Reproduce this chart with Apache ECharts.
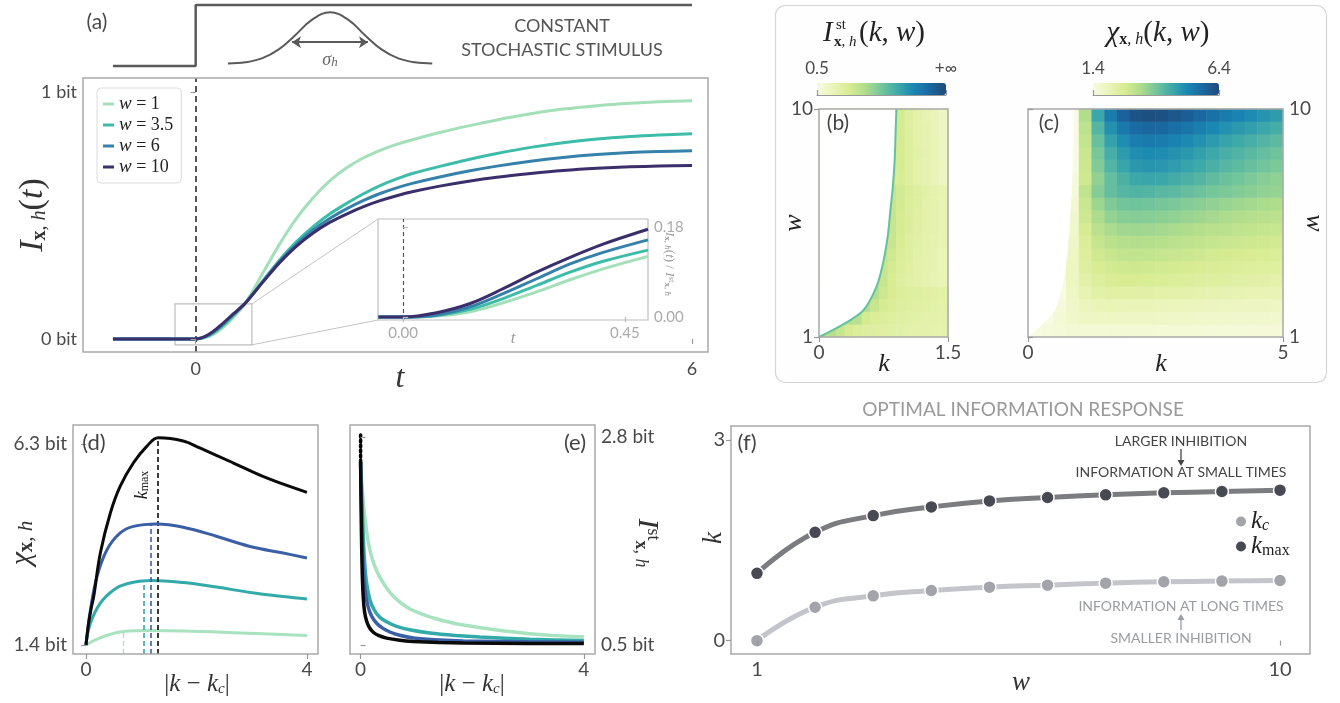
<!DOCTYPE html>
<html><head><meta charset="utf-8">
<script src="https://cdn.jsdelivr.net/npm/echarts@6/dist/echarts.min.js"></script>
<style>html,body{margin:0;padding:0;background:#fff;}#c{width:1340px;height:703px;}</style>
</head><body><div id="c"></div>
<script>
// ---------------- DATA ----------------
// (a) main curves I(t)
const tMain = [-1, 0, 0.15, 0.3, 0.45, 0.6, 0.82, 1.02, 1.22, 1.42, 1.62, 1.83, 2.03, 2.23, 2.43, 2.63, 2.95, 3.3, 3.64, 4.05, 4.44, 4.85, 5.25, 5.6, 6.0];
const iW1  = [0, 0, 0.008, 0.038, 0.085, 0.145, 0.272, 0.387, 0.489, 0.572, 0.640, 0.694, 0.734, 0.764, 0.788, 0.808, 0.836, 0.863, 0.887, 0.912, 0.931, 0.945, 0.955, 0.961, 0.965];
const iW35 = [0, 0, 0.012, 0.046, 0.093, 0.145, 0.238, 0.322, 0.394, 0.455, 0.506, 0.550, 0.588, 0.621, 0.648, 0.671, 0.699, 0.727, 0.751, 0.776, 0.795, 0.810, 0.820, 0.826, 0.831];
const iW6  = [0, 0, 0.014, 0.050, 0.097, 0.145, 0.236, 0.316, 0.384, 0.441, 0.488, 0.528, 0.561, 0.589, 0.612, 0.631, 0.656, 0.680, 0.700, 0.720, 0.735, 0.747, 0.755, 0.759, 0.762];
const iW10 = [0, 0, 0.017, 0.055, 0.100, 0.145, 0.233, 0.311, 0.376, 0.429, 0.472, 0.507, 0.536, 0.560, 0.580, 0.597, 0.619, 0.639, 0.655, 0.670, 0.682, 0.691, 0.697, 0.700, 0.703];
const wLegend = ['w = 1', 'w = 3.5', 'w = 6', 'w = 10'];
// (a) inset, normalised
const tInset = [-0.05, 0, 0.068, 0.136, 0.203, 0.271, 0.339, 0.406, 0.497];
const nW1  = [0, 0, 0.002, 0.0105, 0.0284, 0.0501, 0.0745, 0.0963, 0.1213];
const nW35 = [0, 0, 0.003, 0.0152, 0.0369, 0.0633, 0.0897, 0.1114, 0.1338];
const nW6  = [0, 0, 0.004, 0.0204, 0.0468, 0.0765, 0.1062, 0.1292, 0.1543];
const nW10 = [0, 0, 0.0086, 0.027, 0.0567, 0.0897, 0.1193, 0.1457, 0.1754];
// (a) stimulus sketch
const stepT = [-1, 0, 0, 6];
const stepV = [0, 0, 1, 1];
const gaussT = [0.39, 0.6, 0.8, 1.0, 1.2, 1.4, 1.625, 1.85, 2.05, 2.25, 2.45, 2.65, 2.86];
const gaussV = [0.039, 0.06, 0.124, 0.268, 0.50, 0.753, 0.883, 0.753, 0.50, 0.268, 0.124, 0.06, 0.039];
const sigmaArrow = [[1.164, 0.39], [2.083, 0.39]];
const zoomBox = [[-0.25, -0.024], [0.68, 0.142]];

// (f) optimal k
const wF = [1, 2, 3, 4, 5, 6, 7, 8, 9, 10];
const kmaxF = [1.006, 1.62, 1.87, 2.00, 2.09, 2.14, 2.18, 2.21, 2.23, 2.25];
const kcF = [0, 0.50, 0.67, 0.75, 0.80, 0.83, 0.86, 0.88, 0.89, 0.90];

// (b),(c) heatmaps: rows are w cell centres (bottom to top)
const wRows = [1.25, 1.75, 2.25, 2.75, 3.25, 3.75, 4.25, 4.75, 5.25, 5.75, 6.25, 6.75, 7.25, 7.75, 8.25, 8.75, 9.25, 9.75];
const kColsB = [0.05, 0.15, 0.25, 0.35, 0.45, 0.55, 0.65, 0.75, 0.85, 0.95, 1.05, 1.15, 1.25, 1.35, 1.45];
const heatB = [
 [1.32,1.32,1.21,1.09,1.03,0.99,0.96,0.95,0.94,0.91,0.90,0.89,0.88,0.87,0.87],
 [1.32,1.32,1.32,1.32,1.28,1.10,1.04,1.01,0.97,0.95,0.94,0.91,0.90,0.89,0.88],
 [1.32,1.32,1.32,1.32,1.32,1.32,1.19,1.08,1.03,0.99,0.96,0.95,0.94,0.91,0.90],
 [1.32,1.32,1.32,1.32,1.32,1.32,1.32,1.17,1.06,1.02,0.98,0.96,0.95,0.93,0.91],
 [1.20,1.20,1.20,1.20,1.20,1.20,1.20,1.20,1.06,0.98,0.94,0.89,0.85,0.81,0.79],
 [1.20,1.20,1.20,1.20,1.20,1.20,1.20,1.20,1.10,1.02,0.95,0.90,0.87,0.83,0.80],
 [1.20,1.20,1.20,1.20,1.20,1.20,1.20,1.20,1.14,1.03,0.96,0.91,0.87,0.83,0.80],
 [1.20,1.20,1.20,1.20,1.20,1.20,1.20,1.20,1.20,1.06,0.98,0.94,0.89,0.85,0.81],
 [1.20,1.20,1.20,1.20,1.20,1.20,1.20,1.20,1.20,1.08,1.01,0.95,0.89,0.86,0.82],
 [1.20,1.20,1.20,1.20,1.20,1.20,1.20,1.20,1.20,1.09,1.01,0.95,0.90,0.86,0.82],
 [1.20,1.20,1.20,1.20,1.20,1.20,1.20,1.20,1.20,1.11,1.02,0.96,0.90,0.87,0.82],
 [1.20,1.20,1.20,1.20,1.20,1.20,1.20,1.20,1.20,1.12,1.03,0.96,0.91,0.87,0.83],
 [1.12,1.12,1.12,1.12,1.12,1.12,1.12,1.12,1.12,1.06,0.97,0.90,0.85,0.79,0.72],
 [1.12,1.12,1.12,1.12,1.12,1.12,1.12,1.12,1.12,1.08,0.98,0.90,0.85,0.79,0.73],
 [1.12,1.12,1.12,1.12,1.12,1.12,1.12,1.12,1.12,1.09,0.98,0.91,0.86,0.80,0.73],
 [1.12,1.12,1.12,1.12,1.12,1.12,1.12,1.12,1.12,1.10,0.97,0.90,0.85,0.80,0.73],
 [1.12,1.12,1.12,1.12,1.12,1.12,1.12,1.12,1.12,1.10,0.97,0.90,0.85,0.79,0.72],
 [1.12,1.12,1.12,1.12,1.12,1.12,1.12,1.12,1.12,1.10,0.96,0.89,0.84,0.78,0.72]
];
const kColsC = [0.125,0.375,0.625,0.875,1.125,1.375,1.625,1.875,2.125,2.375,2.625,2.875,3.125,3.375,3.625,3.875,4.125,4.375,4.625,4.875];
const heatC = [
 [1.4,1.49,1.57,1.60,1.62,1.62,1.62,1.61,1.60,1.60,1.59,1.59,1.58,1.58,1.57,1.57,1.56,1.56,1.55,1.55],
 [1.4,1.4,1.61,1.75,1.82,1.85,1.85,1.84,1.83,1.82,1.81,1.79,1.78,1.77,1.76,1.75,1.74,1.73,1.72,1.71],
 [1.4,1.4,1.51,1.78,1.95,2.03,2.05,2.04,2.03,2.02,2.00,1.98,1.96,1.95,1.93,1.91,1.90,1.88,1.87,1.86],
 [1.4,1.4,1.41,1.86,2.14,2.29,2.35,2.35,2.33,2.31,2.28,2.26,2.23,2.20,2.18,2.16,2.13,2.11,2.09,2.07],
 [1.4,1.4,1.4,1.91,2.30,2.49,2.58,2.62,2.62,2.60,2.57,2.53,2.50,2.46,2.42,2.39,2.36,2.33,2.31,2.28],
 [1.4,1.4,1.4,1.88,2.39,2.63,2.74,2.79,2.80,2.78,2.74,2.71,2.66,2.62,2.58,2.55,2.51,2.48,2.45,2.42],
 [1.4,1.4,1.4,1.85,2.47,2.78,2.92,2.98,3.00,2.98,2.94,2.90,2.85,2.80,2.75,2.71,2.67,2.63,2.60,2.57],
 [1.4,1.4,1.4,1.78,2.56,2.93,3.11,3.20,3.22,3.20,3.16,3.11,3.06,3.00,2.95,2.89,2.86,2.81,2.77,2.74],
 [1.4,1.4,1.4,1.73,2.67,3.10,3.32,3.43,3.45,3.43,3.39,3.34,3.27,3.20,3.14,3.09,3.04,2.99,2.95,2.91],
 [1.4,1.4,1.4,1.72,2.82,3.30,3.56,3.69,3.72,3.70,3.65,3.59,3.51,3.44,3.38,3.31,3.26,3.20,3.15,3.11],
 [1.4,1.4,1.4,1.63,2.88,3.47,3.76,3.91,3.95,3.92,3.87,3.81,3.73,3.66,3.58,3.52,3.44,3.39,3.33,3.27],
 [1.4,1.4,1.4,1.57,3.02,3.72,4.07,4.24,4.30,4.27,4.21,4.16,4.05,3.97,3.88,3.81,3.73,3.66,3.59,3.55],
 [1.4,1.4,1.4,1.50,2.78,3.58,4.06,4.36,4.54,4.60,4.57,4.47,4.36,4.25,4.12,3.99,3.90,3.80,3.70,3.61],
 [1.4,1.4,1.4,1.44,2.84,3.75,4.29,4.62,4.83,4.90,4.87,4.76,4.64,4.52,4.38,4.24,4.13,4.03,3.92,3.82],
 [1.4,1.4,1.4,1.4,2.88,3.86,4.43,4.80,5.03,5.10,5.06,4.95,4.84,4.69,4.55,4.40,4.29,4.18,4.06,3.95],
 [1.4,1.4,1.4,1.4,2.96,4.02,4.68,5.06,5.30,5.40,5.36,5.24,5.12,4.96,4.80,4.64,4.52,4.40,4.28,4.16],
 [1.4,1.4,1.4,1.4,3.07,4.26,4.99,5.43,5.69,5.80,5.76,5.62,5.49,5.32,5.14,4.96,4.83,4.70,4.57,4.44],
 [1.4,1.4,1.4,1.4,3.26,4.56,5.37,5.88,6.18,6.30,6.25,6.10,5.96,5.76,5.57,5.37,5.22,5.08,4.93,4.78]
];

// (d) chi vs |k-kc|
const dMint  = [[0,1.4],[0.2,1.54],[0.44,1.66],[0.68,1.73],[1.16,1.75],[1.76,1.74],[2.66,1.70],[4.0,1.63]];
const dTeal  = [[0,1.4],[0.08,1.93],[0.26,2.42],[0.5,2.74],[0.74,2.89],[1.19,2.97],[1.76,2.92],[2.36,2.81],[2.97,2.68],[3.57,2.58],[4.0,2.52]];
const dBlue  = [[0,1.4],[0.08,2.25],[0.2,3.07],[0.38,3.72],[0.62,4.13],[0.86,4.29],[1.28,4.35],[1.76,4.27],[2.36,4.05],[2.97,3.80],[3.57,3.64],[4.0,3.52]];
const dBlack = [[0,1.4],[0.05,1.95],[0.1,2.33],[0.14,2.58],[0.26,3.64],[0.44,4.61],[0.62,5.27],[0.86,5.84],[1.1,6.24],[1.31,6.45],[1.76,6.37],[2.06,6.20],[2.66,5.84],[3.27,5.47],[4.0,5.12]];
const dPeakX = [0.68, 1.05, 1.17, 1.30];
const dPeakY = [1.73, 2.97, 4.35, 6.45];
// (e) I_st vs |k-kc|
const eMint  = [[0,2.52],[0.02,2.3],[0.048,2.08],[0.09,1.84],[0.137,1.64],[0.2,1.47],[0.287,1.32],[0.4,1.19],[0.525,1.08],[0.65,1.0],[0.824,0.92],[1.0,0.865],[1.24,0.81],[1.5,0.765],[1.84,0.72],[2.44,0.665],[3.03,0.625],[3.5,0.603],[4.0,0.59]];
const eTeal  = [[0,2.52],[0.012,2.3],[0.03,1.99],[0.045,1.74],[0.066,1.47],[0.1,1.22],[0.167,1.0],[0.25,0.88],[0.346,0.805],[0.48,0.75],[0.645,0.705],[0.9,0.665],[1.24,0.632],[1.7,0.605],[2.14,0.587],[3.03,0.563],[4.0,0.548]];
const eBlue  = [[0,2.52],[0.008,2.25],[0.018,1.99],[0.03,1.68],[0.048,1.36],[0.08,1.1],[0.137,0.915],[0.2,0.815],[0.287,0.74],[0.4,0.683],[0.525,0.643],[0.7,0.607],[0.943,0.578],[1.4,0.556],[1.84,0.545],[3.0,0.535],[4.0,0.53]];
const eBlack = [[0,2.52],[0.005,2.2],[0.012,1.85],[0.02,1.55],[0.03,1.28],[0.048,1.02],[0.07,0.87],[0.107,0.765],[0.16,0.69],[0.227,0.64],[0.33,0.602],[0.466,0.575],[0.7,0.552],[0.943,0.539],[1.4,0.527],[1.84,0.521],[3.0,0.516],[4.0,0.515]];
const eDiverge = [[0,2.52],[0,2.85]];

// ---------------- STYLE ----------------
const SANS = 'Lato, "Open Sans", "Noto Sans", sans-serif';
const SERIF = '"Liberation Serif", "DejaVu Serif", serif';
const TXT = '#4a4a4a';
const aColors = ['#a3dfb8', '#3dbda9', '#3581a9', '#3b2f6b'];
const dColors = ['#a8e2bf', '#33aaaa', '#3b5fa6', '#0a0a0a'];
const CMAP = ['#f8fbe2','#eaf4b9','#d8ec92','#b0dd8c','#73c59b','#3ea9a9','#1a87b3','#1a67a0','#1e4a7a'];

const chart = echarts.init(document.getElementById('c'));

function frameGrid(left, top, width, height, extra) {
  return Object.assign({left, top, width, height, show: true, borderColor: '#a9a9a9', borderWidth: 1.5,
    backgroundColor: 'transparent', containLabel: false, outerBoundsMode: 'none', z: 10}, extra || {});
}
function plainGrid(left, top, width, height) {
  return {left, top, width, height, show: false, containLabel: false, outerBoundsMode: 'none'};
}
function vAxis(g, pos, min, max, ticks, labels, o) {
  o = o || {};
  return {
    gridIndex: g, type: 'value', position: pos, min, max, z: 11,
    axisLine: {show: !!o.line, lineStyle: {color: '#999', width: 1.2}},
    splitLine: {show: false},
    axisTick: {show: true, customValues: ticks, length: o.tickLen || 5, lineStyle: {color: o.tickColor || '#999', width: 1.2}},
    axisLabel: {show: true, customValues: ticks, margin: o.margin || 6,
      formatter: v => { const i = ticks.findIndex(t => Math.abs(t - v) < 1e-9); return i >= 0 ? labels[i] : ''; },
      fontFamily: SANS, fontSize: o.size || 18, color: o.color || TXT}
  };
}
function hidden(g, min, max) { return {gridIndex: g, type: 'value', min, max, show: false}; }
function cat(g, data) { return {gridIndex: g, type: 'category', data: data.map(String), show: false}; }
function pairs(xs, ys) { return xs.map((x, i) => [x, ys[i]]); }

const grids = [
  plainGrid(83, 5, 625, 61),                 // 0 stimulus
  frameGrid(83, 78, 625, 274),               // 1 main
  frameGrid(378, 219, 270, 101, {borderColor: '#bdbdbd', borderWidth: 1.2, backgroundColor: '#fff', z: 1}), // 2 inset
  plainGrid(819, 109, 129, 228),             // 3 b heat
  frameGrid(819, 109, 129, 228),             // 4 b frame
  plainGrid(1028, 109, 255, 228),            // 5 c heat
  frameGrid(1028, 109, 255, 228),            // 6 c frame
  frameGrid(73, 425, 245, 229),              // 7 d
  frameGrid(350, 425, 245, 229),             // 8 e
  frameGrid(731, 426, 579, 228),             // 9 f
  plainGrid(817, 83, 129, 12),               // 10 colorbar b
  plainGrid(1093, 83, 126, 12)               // 11 colorbar c
];
const xAxes = [
  hidden(0, -1.362, 6.193),
  vAxis(1, 'bottom', -1.362, 6.193, [0, 6], ['0', '6'], {margin: 8}),
  vAxis(2, 'bottom', -0.051, 0.497, [0, 0.45], ['0.00', '0.45'], {color: '#aaa', size: 15, tickColor: '#bbb'}),
  cat(3, kColsB),
  vAxis(4, 'bottom', 0, 1.5, [0, 1.5], ['0', '1.5'], {size: 19}),
  cat(5, kColsC),
  vAxis(6, 'bottom', 0, 5, [0, 5], ['0', '5'], {size: 19}),
  vAxis(7, 'bottom', -0.235, 4.2, [0, 4], ['0', '4'], {size: 19}),
  vAxis(8, 'bottom', -0.19, 4.2, [0, 4], ['0', '4'], {size: 19}),
  vAxis(9, 'bottom', 0.553, 10.516, [1, 10], ['1', '10'], {size: 20}),
  vAxis(10, 'top', 0.5, 2.8, [0.5, 2.8], ['0.5', '+∞'], {line: true, size: 17}),
  vAxis(11, 'top', 1.4, 6.4, [1.4, 6.4], ['1.4', '6.4'], {line: true, size: 17})
];
const yAxes = [
  hidden(0, 0, 1),
  vAxis(1, 'left', -0.053, 1.057, [0, 1], ['0 bit', '1 bit']),
  vAxis(2, 'right', -0.006, 0.196, [0, 0.18], ['0.00', '0.18'], {color: '#aaa', size: 15, tickColor: '#bbb'}),
  cat(3, wRows),
  vAxis(4, 'left', 1, 10, [1, 10], ['1', '10'], {size: 19}),
  cat(5, wRows),
  vAxis(6, 'right', 1, 10, [1, 10], ['1', '10'], {size: 19}),
  vAxis(7, 'left', 1.18, 6.76, [1.4, 6.3], ['1.4 bit', '6.3 bit'], {size: 19}),
  vAxis(8, 'right', 0.40, 2.93, [0.5, 2.8], ['0.5 bit', '2.8 bit'], {size: 19}),
  vAxis(9, 'left', -0.2, 3.21, [0, 3], ['0', '3'], {size: 20}),
  hidden(10, 0, 1),
  hidden(11, 0, 1)
];

const series = [];
const mainVals = [iW1, iW35, iW6, iW10];
const insetVals = [nW1, nW35, nW6, nW10];
mainVals.forEach((vals, i) => {
  const s = {type: 'line', name: wLegend[i], xAxisIndex: 1, yAxisIndex: 1, data: pairs(tMain, vals),
    smooth: 0.3, symbol: 'none', silent: true, lineStyle: {color: aColors[i], width: 3}, itemStyle: {color: aColors[i]}, z: 3 + i};
  if (i === 0) {
    s.markLine = {silent: true, symbol: 'none', label: {show: false},
      lineStyle: {color: '#555', width: 2, type: [6, 4]}, data: [{xAxis: 0}]};
    s.markArea = {silent: true, itemStyle: {color: 'rgba(0,0,0,0)', borderColor: '#bdbdbd', borderWidth: 1.2},
      data: [[{coord: zoomBox[0]}, {coord: zoomBox[1]}]]};
  }
  series.push(s);
});
insetVals.forEach((vals, i) => {
  const s = {type: 'line', name: wLegend[i], xAxisIndex: 2, yAxisIndex: 2, data: pairs(tInset, vals),
    smooth: 0.35, symbol: 'none', silent: true, lineStyle: {color: aColors[i], width: 3}, itemStyle: {color: aColors[i]}, z: 3 + i};
  if (i === 0) s.markLine = {silent: true, symbol: 'none', label: {show: false},
    lineStyle: {color: '#555', width: 1.2, type: [4, 3]}, data: [{xAxis: 0}]};
  series.push(s);
});
series.push({type: 'line', xAxisIndex: 0, yAxisIndex: 0, data: pairs(stepT, stepV), symbol: 'none', clip: false, silent: true,
  lineStyle: {color: '#5a5a5a', width: 2.5}});
series.push({type: 'line', xAxisIndex: 0, yAxisIndex: 0, data: pairs(gaussT, gaussV), symbol: 'none', smooth: 0.4, clip: false, silent: true,
  lineStyle: {color: '#5a5a5a', width: 2},
  markLine: {silent: true, symbol: ['arrow', 'arrow'], symbolSize: [9, 9], label: {show: false},
    lineStyle: {color: '#5a5a5a', width: 1.8, type: 'solid'},
    data: [[{coord: sigmaArrow[0]}, {coord: sigmaArrow[1]}]]}});

function heatData(rows) { const out = []; rows.forEach((r, j) => r.forEach((v, i) => out.push([i, j, v]))); return out; }
const IDX_B = series.length;
series.push({type: 'heatmap', xAxisIndex: 3, yAxisIndex: 3, data: heatData(heatB), silent: true, emphasis: {disabled: true}, z: 2});
series.push({type: 'line', xAxisIndex: 4, yAxisIndex: 4, data: pairs(kcF, wF), symbol: 'none', smooth: 0.3, silent: true,
  lineStyle: {color: '#62c1a0', width: 2}, areaStyle: {origin: 'end', color: '#ffffff', opacity: 1}, z: 4});
const IDX_C = series.length;
series.push({type: 'heatmap', xAxisIndex: 5, yAxisIndex: 5, data: heatData(heatC), silent: true, emphasis: {disabled: true}, z: 2});
series.push({type: 'line', xAxisIndex: 6, yAxisIndex: 6, data: pairs(kcF, wF), symbol: 'none', smooth: 0.3, silent: true,
  lineStyle: {color: '#ffffff', width: 0.5}, areaStyle: {origin: 'end', color: '#ffffff', opacity: 1}, z: 4});

[dMint, dTeal, dBlue, dBlack].forEach((d, i) => {
  series.push({type: 'line', xAxisIndex: 7, yAxisIndex: 7, data: d, smooth: 0.4, symbol: 'none', silent: true,
    lineStyle: {color: dColors[i], width: 3}, z: 3 + i,
    markLine: {silent: true, symbol: 'none', label: {show: false},
      lineStyle: {color: dColors[i], width: i === 0 ? 1.3 : 1.6, type: [5, 3]},
      data: [[{coord: [dPeakX[i], 1.18]}, {coord: [dPeakX[i], dPeakY[i]]}]]}});
});
[eMint, eTeal, eBlue, eBlack].forEach((d, i) => {
  series.push({type: 'line', xAxisIndex: 8, yAxisIndex: 8, data: d, smooth: 0.2, symbol: 'none', silent: true,
    lineStyle: {color: dColors[i], width: 3.5}, z: 3 + i});
});
series.push({type: 'line', xAxisIndex: 8, yAxisIndex: 8, data: eDiverge, symbol: 'none', silent: true, clip: false,
  lineStyle: {color: '#000', width: 3.5, type: [2, 3], cap: 'round'}, z: 8});
series.push({type: 'line', name: 'kmax', xAxisIndex: 9, yAxisIndex: 9, data: pairs(wF, kmaxF), smooth: 0.5, silent: true,
  symbol: 'circle', symbolSize: 13, lineStyle: {color: '#7b7c80', width: 5},
  itemStyle: {color: '#474a52', borderColor: '#fff', borderWidth: 1.5}, z: 5});
series.push({type: 'line', name: 'kc', xAxisIndex: 9, yAxisIndex: 9, data: pairs(wF, kcF), smooth: 0.5, silent: true,
  symbol: 'circle', symbolSize: 13, lineStyle: {color: '#c3c5ca', width: 5},
  itemStyle: {color: '#a2a4aa', borderColor: '#fff', borderWidth: 1.5}, z: 4});

// ---------------- TEXT (graphic) ----------------
let gid = 0;
function rich(size, sub, color) {
  const c = color || '#222';
  return {
    i: {fontFamily: SERIF, fontStyle: 'italic', fontSize: size, fill: c},
    n: {fontFamily: SERIF, fontSize: size, fill: c},
    xb: {fontFamily: SERIF, fontWeight: 'bold', fontSize: sub, fill: c, verticalAlign: 'bottom'},
    si: {fontFamily: SERIF, fontStyle: 'italic', fontSize: sub, fill: c, verticalAlign: 'bottom'},
    sn: {fontFamily: SERIF, fontSize: sub, fill: c, verticalAlign: 'bottom'},
    pn: {fontFamily: SERIF, fontSize: sub, fill: c, verticalAlign: 'top'}
  };
}
function T(x, y, text, o) {
  o = o || {};
  return {type: 'text', id: 'g' + (gid++), x, y, rotation: o.rot || 0, z: 50, silent: true,
    style: {text, fill: o.color || TXT, fontSize: o.size || 18, fontFamily: o.family || SANS,
      fontStyle: o.italic ? 'italic' : 'normal', fontWeight: o.weight || 'normal',
      align: o.align || 'center', verticalAlign: o.va || 'middle', rich: o.rich}};
}
const G = [];
G.push({type: 'rect', id: 'g' + (gid++), z: -5, silent: true, shape: {x: 775.5, y: 5.5, width: 551, height: 377, r: 10},
  style: {fill: '#fefefe', stroke: '#d4d4d4', lineWidth: 1.2}});
// (a)
G.push(T(97, 22, '(a)', {size: 21}));
G.push(T(330, 60, '{i|σ}{si|h}', {rich: rich(18, 13, '#666')}));
G.push(T(562, 26, 'CONSTANT', {size: 18, color: '#555'}));
G.push(T(562, 50, 'STOCHASTIC STIMULUS', {size: 18, color: '#555'}));
G.push(T(400, 379, '{i|t}', {rich: rich(32, 18, '#333')}));
G.push(T(33, 215, '{i|I}{xb|x}{si|, h}{n|(}{i|t}{n|)}', {rot: Math.PI / 2, rich: rich(34, 20, '#333')}));
G.push(T(513, 339, '{i|t}', {rich: rich(17, 12, '#999')}));
G.push(T(669, 264, '{i|I}{xb|x}{si|, h}{n|(}{i|t}{n|) / }{i|I}{pn|st}{xb|x}{si|, h}', {rot: -Math.PI / 2, rich: rich(13, 9, '#999')}));
// (b),(c)
G.push(T(838, 123, '(b)', {size: 21, color: '#444'}));
G.push(T(1049, 123, '(c)', {size: 21, color: '#444'}));
G.push(T(823, 33, '{i|I}', {align: 'left', rich: rich(29, 16)}));
G.push(T(836, 25, '{n|st}', {align: 'left', rich: rich(15, 15)}));
G.push(T(834, 42, '{b|x}{i|, h}', {align: 'left', rich: {b: {fontFamily: SERIF, fontWeight: 'bold', fontSize: 15, fill: '#222'}, i: {fontFamily: SERIF, fontStyle: 'italic', fontSize: 15, fill: '#222'}}}));
G.push(T(859, 33, '{n|(}{i|k}{n|, }{i|w}{n|)}', {align: 'left', rich: rich(29, 16)}));
G.push(T(1158, 33, '{i|χ}{xb|x}{si|, h}{n|(}{i|k}{n|, }{i|w}{n|)}', {rich: rich(29, 16)}));
G.push(T(884, 364, '{i|k}', {rich: rich(26, 16)}));
G.push(T(794, 223, '{i|w}', {rot: Math.PI / 2, rich: rich(26, 16)}));
G.push(T(1161, 364, '{i|k}', {rich: rich(26, 16)}));
G.push(T(1314, 223, '{i|w}', {rot: -Math.PI / 2, rich: rich(26, 16)}));
// (d)
G.push(T(94, 443, '(d)', {size: 22, color: '#444'}));
G.push(T(142, 485, '{i|k}{sn|max}', {rot: Math.PI / 2, rich: rich(18, 12, '#222')}));
G.push(T(22, 543, '{i|χ}{xb|x}{si|, h}', {rot: Math.PI / 2, rich: rich(30, 21, '#333')}));
G.push(T(197, 684, '{n||}{i|k}{n| − }{i|k}{si|c}{n||}', {rich: rich(25, 15, '#333')}));
// (e)
G.push(T(575, 443, '(e)', {size: 22, color: '#444'}));
G.push(T(472, 684, '{n||}{i|k}{n| − }{i|k}{si|c}{n||}', {rich: rich(25, 15, '#333')}));
G.push(T(647, 543, '{i|I}{pn|st}{xb|x}{si|, h}', {rot: -Math.PI / 2, rich: rich(30, 18, '#333')}));
// (f)
G.push(T(1023, 410, 'OPTIMAL INFORMATION RESPONSE', {size: 19, color: '#9a9a9a'}));
G.push(T(747, 443, '(f)', {size: 22, color: '#444'}));
G.push(T(714, 538, '{i|k}', {rot: Math.PI / 2, rich: rich(27, 16, '#333')}));
G.push(T(1021, 683, '{i|w}', {rich: rich(27, 16, '#333')}));
G.push(T(1181, 441, 'LARGER INHIBITION', {size: 14, color: '#444'}));
G.push(T(1181, 472, 'INFORMATION AT SMALL TIMES', {size: 14, color: '#444'}));
G.push(T(1181, 606, 'INFORMATION AT LONG TIMES', {size: 14, color: '#9a9ca3'}));
G.push(T(1181, 638, 'SMALLER INHIBITION', {size: 14, color: '#9a9ca3'}));
G.push({type: 'line', id: 'g' + (gid++), z: 50, silent: true, shape: {x1: 1181, y1: 449, x2: 1181, y2: 462}, style: {stroke: '#444', lineWidth: 1.3}});
G.push({type: 'polygon', id: 'g' + (gid++), z: 50, silent: true, shape: {points: [[1177.5, 460], [1184.5, 460], [1181, 466]]}, style: {fill: '#444'}});
G.push({type: 'line', id: 'g' + (gid++), z: 50, silent: true, shape: {x1: 1181, y1: 630, x2: 1181, y2: 618}, style: {stroke: '#9a9ca3', lineWidth: 1.3}});
G.push({type: 'polygon', id: 'g' + (gid++), z: 50, silent: true, shape: {points: [[1177.5, 620], [1184.5, 620], [1181, 614]]}, style: {fill: '#9a9ca3'}});

const option = {
  animation: false,
  backgroundColor: '#ffffff',
  grid: grids, xAxis: xAxes, yAxis: yAxes, series,
  visualMap: [
    {type: 'continuous', seriesIndex: IDX_B, dimension: 2, min: 0.5, max: 2.8, orient: 'horizontal', left: 817, top: 83,
      itemWidth: 12, itemHeight: 129, padding: 0, calculable: false, hoverLink: false, text: null, show: true,
      inRange: {color: CMAP}, textStyle: {color: 'rgba(0,0,0,0)'}},
    {type: 'continuous', seriesIndex: IDX_C, dimension: 2, min: 1.4, max: 6.4, orient: 'horizontal', left: 1093, top: 83,
      itemWidth: 12, itemHeight: 126, padding: 0, calculable: false, hoverLink: false, text: null, show: true,
      inRange: {color: CMAP}, textStyle: {color: 'rgba(0,0,0,0)'}}
  ],
  legend: [
    {left: 97, top: 88, orient: 'vertical', itemWidth: 11, itemHeight: 3, itemGap: 1, padding: [6, 8, 6, 6],
      backgroundColor: 'rgba(255,255,255,0.9)', borderColor: '#dcdcdc', borderWidth: 1, borderRadius: 4, selectedMode: false,
      data: wLegend.map((n, i) => ({name: n, icon: 'rect', itemStyle: {color: aColors[i]}})),
      formatter: n => '{i|w}{n| = ' + n.split('= ')[1] + '}',
      textStyle: {fontFamily: SERIF, fontSize: 18, color: '#222', lineHeight: 20,
        rich: {i: {fontFamily: SERIF, fontStyle: 'italic', fontSize: 19, color: '#222', lineHeight: 20}, n: {fontFamily: SERIF, fontSize: 18, color: '#222', lineHeight: 20}}}},
    {left: 1236, top: 509, orient: 'vertical', itemWidth: 10, itemHeight: 10, itemGap: 0, padding: 0, selectedMode: false,
      data: [{name: 'kc', icon: 'circle', itemStyle: {color: '#a2a4aa', borderWidth: 0}}, {name: 'kmax', icon: 'circle', itemStyle: {color: '#474a52', borderWidth: 0}}],
      formatter: n => n === 'kc' ? '{i|k}{s|c}' : '{i|k}{m|max}',
      textStyle: {fontFamily: SERIF, fontSize: 24, color: '#222',
        rich: {i: {fontFamily: SERIF, fontStyle: 'italic', fontSize: 25, color: '#222'},
          s: {fontFamily: SERIF, fontStyle: 'italic', fontSize: 16, color: '#222', verticalAlign: 'bottom'},
          m: {fontFamily: SERIF, fontSize: 16, color: '#222', verticalAlign: 'bottom'}}}}
  ],
  graphic: {elements: G}
};
chart.setOption(option);

// connector lines from the zoom box to the inset (via the library's coordinate conversion)
const pBoxTop = chart.convertToPixel({gridIndex: 1}, [zoomBox[1][0], zoomBox[1][1]]);
const pBoxBot = chart.convertToPixel({gridIndex: 1}, [zoomBox[1][0], zoomBox[0][1]]);
const pInTop = chart.convertToPixel({gridIndex: 2}, [-0.051, 0.196]);
const pInBot = chart.convertToPixel({gridIndex: 2}, [-0.051, -0.006]);
chart.setOption({graphic: {elements: [
  {type: 'line', id: 'conn1', z: 1, silent: true, shape: {x1: pBoxTop[0], y1: pBoxTop[1], x2: pInTop[0], y2: pInTop[1]}, style: {stroke: '#c4c4c4', lineWidth: 1}},
  {type: 'line', id: 'conn2', z: 1, silent: true, shape: {x1: pBoxBot[0], y1: pBoxBot[1], x2: pInBot[0], y2: pInBot[1]}, style: {stroke: '#c4c4c4', lineWidth: 1}}
]}});
</script></body></html>
